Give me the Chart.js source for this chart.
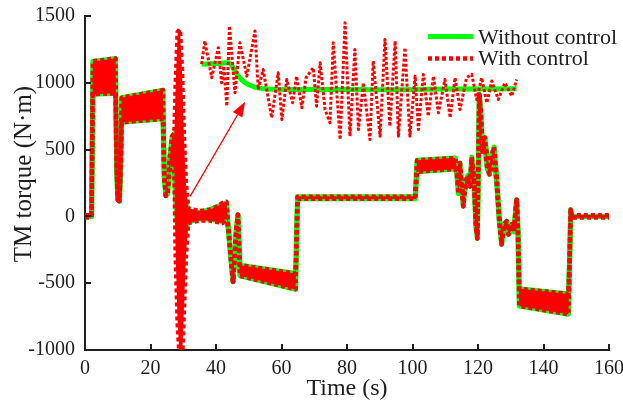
<!DOCTYPE html>
<html>
<head>
<meta charset="utf-8">
<script src="https://cdn.jsdelivr.net/npm/chart.js@4/dist/chart.umd.min.js"></script>
<style>
  html, body { margin: 0; padding: 0; background: #fff; }
  #wrap { width: 623px; height: 403px; }
</style>
</head>
<body>
<div id="wrap"><canvas id="grafico" width="623" height="403"></canvas></div>
<script>
// tiempo (s) y envolventes del par del TM
const mainTime = [0, 2.0, 2.4, 9.3, 9.7, 10.0, 10.5, 10.8, 11.2, 23.8, 24.2, 24.7, 25.2, 25.8, 26.6, 27.3,
  27.7, 28.3, 29.0, 29.6, 30.2, 30.8, 31.5, 35.0, 38.0, 40.0, 42.0, 43.2, 43.8, 44.5, 45.2, 45.7, 46.2, 46.7,
  47.0, 47.3, 64.3, 64.9, 100.8, 101.4, 113.0, 113.5, 114.0, 114.5, 115.0, 115.5, 116.0, 117.0, 117.6, 118.1,
  118.8, 119.4, 119.8, 120.2, 120.4, 120.8, 121.3, 122.1, 122.8, 123.5, 124.9, 125.7, 126.5, 127.2, 127.9,
  128.8, 129.3, 130.3, 131.0, 131.8, 132.2, 132.6, 147.6, 148.0, 148.3, 148.6, 160];

const withoutHi = [0, 0, 1160, 1182, 350, 125, 115, 300, 888, 945, 300, 155, 170, 420, 600, 620,
  500, 400, 300, 200, 150, 100, 40, 30, 50, 70, 90, 100, -100, -300, -490, -300, -100, 13,
  -200, -365, -428, 148, 148, 420, 437, 370, 230, 400, 250, 125, 250, 310, 275, 445,
  285, -60, -135, 545, 913, 810, 565, 590, 440, 385, 520, 300, -10, -185, -60,
  -35, -110, -60, -85, 125, -90, -542, -580, -300, 50, 0, 0];
const withoutLo = [0, 0, 915, 922, 350, 125, 115, 300, 705, 730, 300, 155, 170, 350, 420, 330,
  100, -100, -300, -300, -200, -100, -40, -20, -20, -30, -40, 0, -100, -300, -490, -300, -100, 13,
  -200, -445, -545, 132, 132, 335, 355, 330, 170, 350, 200, 75, 200, 265, 225, 405,
  240, -90, -165, 505, 913, 740, 485, 510, 360, 315, 455, 250, -40, -210, -90,
  -65, -135, -90, -115, 125, -110, -670, -732, -300, 50, 0, 0];

const withHi = [8, 8, 1160, 1182, 350, 125, 115, 300, 888, 945, 300, 155, 170, 420, 600, 620,
  1000, 1380, 1400, 1100, 600, 250, 60, 40, 50, 70, 100, 110, -100, -300, -490, -300, -100, 13,
  -200, -365, -428, 148, 148, 420, 437, 370, 230, 400, 250, 125, 250, 310, 275, 445,
  285, -60, -135, 545, 913, 810, 565, 590, 440, 385, 520, 300, -10, -185, -60,
  -35, -110, -60, -85, 125, -90, -542, -580, -300, 50, 8, 8];
const withLo = [-8, -8, 915, 922, 350, 125, 115, 300, 705, 730, 300, 155, 170, 350, 420, 330,
  -300, -800, -1100, -1100, -700, -300, -50, -30, -30, -40, -50, 0, -100, -300, -490, -300, -100, 13,
  -200, -445, -545, 132, 132, 335, 355, 330, 170, 350, 200, 75, 200, 265, 225, 405,
  240, -90, -165, 505, 913, 740, 485, 510, 360, 315, 455, 250, -40, -210, -90,
  -65, -135, -90, -115, 125, -110, -670, -732, -300, 50, -8, -8];

// recuadro ampliado (zoom de la zona 35-132 s)
const insetTimeWithout = [35.6, 40.0, 43.8, 46.8, 48.9, 51.9, 57.0, 70.0, 90.0, 110.0, 131.8];
const insetWithout = [1138, 1145, 1150, 1050, 1000, 968, 952, 950, 948, 953, 955];

const insetTimeWith = [35.6, 36.6, 38.7, 40.7, 41.7, 42.4, 43.3, 44.1, 45.8, 47.3, 49.4, 51.9, 52.9, 54.4,
  57.0, 59.0, 60.1, 61.6, 63.4, 64.6, 66.2, 67.5, 69.7, 70.7, 71.8, 73.3, 74.8, 75.8, 77.9, 79.4, 80.9,
  82.4, 83.5, 85.0, 87.0, 88.0, 90.1, 91.6, 93.1, 94.7, 95.7, 97.7, 99.2, 100.8, 101.8, 103.3, 104.8,
  106.4, 107.9, 109.9, 111.5, 113.0, 114.5, 116.5, 118.1, 119.6, 121.1, 122.7, 124.2, 126.2, 128.2,
  130.3, 131.8];
const insetWith = [1140, 1313, 1038, 1263, 1000, 1125, 825, 1425, 925, 1300, 1050, 1388, 950, 1100,
  738, 1075, 725, 1025, 850, 1050, 813, 1038, 1113, 825, 1150, 800, 700, 1300, 575, 1450, 600,
  1250, 650, 1000, 575, 1163, 600, 1325, 675, 1313, 600, 1263, 600, 1050, 650, 1063, 750,
  1050, 775, 1025, 738, 1038, 800, 1038, 1063, 875, 1038, 850, 1013, 875, 1000,
  900, 1025];

// flecha: desde la zona de 30 s hacia el recuadro
const arrowFrom = [32.1, 150];
const arrowTo = [48.9, 858];

const xTicks = [0, 20, 40, 60, 80, 100, 120, 140, 160];
const yTicks = [-1000, -500, 0, 500, 1000, 1500];

const VERDE = '#00ff00';
const ROJO = '#ff0000';
const TINTA = '#1e1e1e';

function puntos(xs, ys) {
    return xs.map((x, i) => ({x: x, y: ys[i]}));
}

const ticksHaciaDentro = {
    id: 'ticksHaciaDentro',
    afterDraw(chart) {
        const ctx = chart.ctx;
        const a = chart.chartArea;
        const sx = chart.scales.x, sy = chart.scales.y;
        ctx.save();
        ctx.strokeStyle = TINTA;
        ctx.lineWidth = 2;
        ctx.beginPath();
        xTicks.forEach(v => {
            const px = Math.round(sx.getPixelForValue(v));
            ctx.moveTo(px, a.bottom);
            ctx.lineTo(px, a.bottom - 6);
        });
        yTicks.forEach(v => {
            const py = Math.round(sy.getPixelForValue(v));
            ctx.moveTo(a.left, py);
            ctx.lineTo(a.left + 6, py);
        });
        ctx.stroke();
        ctx.restore();
    }
};

const tituloY = {
    id: 'tituloY',
    afterDraw(chart) {
        const ctx = chart.ctx;
        ctx.save();
        ctx.translate(24, 174);
        ctx.rotate(-Math.PI / 2);
        ctx.fillStyle = TINTA;
        ctx.font = '25px "Liberation Serif"';
        ctx.textAlign = 'center';
        ctx.textBaseline = 'middle';
        ctx.fillText('TM torque (N·m)', 0, 0);
        ctx.restore();
    }
};

const flecha = {
    id: 'flecha',
    afterDatasetsDraw(chart) {
        const ctx = chart.ctx;
        const sx = chart.scales.x, sy = chart.scales.y;
        const x0 = sx.getPixelForValue(arrowFrom[0]), y0 = sy.getPixelForValue(arrowFrom[1]);
        const x1 = sx.getPixelForValue(arrowTo[0]), y1 = sy.getPixelForValue(arrowTo[1]);
        const ang = Math.atan2(y1 - y0, x1 - x0);
        const largo = 15, ancho = 5.5;
        const bx = x1 - largo * Math.cos(ang), by = y1 - largo * Math.sin(ang);
        ctx.save();
        ctx.strokeStyle = ROJO;
        ctx.fillStyle = ROJO;
        ctx.lineWidth = 1.3;
        ctx.beginPath();
        ctx.moveTo(x0, y0);
        ctx.lineTo(bx, by);
        ctx.stroke();
        ctx.beginPath();
        ctx.moveTo(x1, y1);
        ctx.lineTo(bx + ancho * Math.sin(ang), by - ancho * Math.cos(ang));
        ctx.lineTo(bx - ancho * Math.sin(ang), by + ancho * Math.cos(ang));
        ctx.closePath();
        ctx.fill();
        ctx.restore();
    }
};

const leyenda = {
    id: 'leyenda',
    afterDraw(chart) {
        const ctx = chart.ctx;
        ctx.save();
        ctx.lineWidth = 5;
        ctx.strokeStyle = VERDE;
        ctx.beginPath();
        ctx.moveTo(428, 36.5);
        ctx.lineTo(473, 36.5);
        ctx.stroke();
        ctx.lineWidth = 4.5;
        ctx.strokeStyle = ROJO;
        ctx.setLineDash([4, 3]);
        ctx.beginPath();
        ctx.moveTo(428, 58.5);
        ctx.lineTo(473, 58.5);
        ctx.stroke();
        ctx.setLineDash([]);
        ctx.fillStyle = TINTA;
        ctx.font = '22px "Liberation Serif"';
        ctx.textBaseline = 'alphabetic';
        ctx.fillText('Without control', 478, 43.5);
        ctx.fillText('With control', 478, 65);
        ctx.restore();
    }
};

function graficar() {
    Chart.defaults.font.family = '"Liberation Serif", serif';
    Chart.defaults.color = TINTA;

    const ctx = document.getElementById('grafico').getContext('2d');
    new Chart(ctx, {
        type: 'line',
        data: {
            datasets: [
                {label: 'Without control', data: puntos(mainTime, withoutHi), borderColor: VERDE,
                    borderWidth: 5, fill: false, order: 6},
                {label: 'Without control lo', data: puntos(mainTime, withoutLo), borderColor: VERDE,
                    backgroundColor: VERDE, borderWidth: 5, fill: '-1', order: 5},
                {label: 'With control', data: puntos(mainTime, withHi), borderColor: ROJO,
                    borderWidth: 4.5, borderDash: [4, 3], fill: false, order: 4},
                {label: 'With control lo', data: puntos(mainTime, withLo), borderColor: ROJO,
                    backgroundColor: ROJO, borderWidth: 4.5, borderDash: [4, 3], fill: '-1', order: 3},
                {label: 'zoom without', data: puntos(insetTimeWithout, insetWithout), borderColor: VERDE,
                    borderWidth: 5, fill: false, cubicInterpolationMode: 'monotone', order: 2},
                {label: 'zoom with', data: puntos(insetTimeWith, insetWith), borderColor: ROJO,
                    borderWidth: 3, borderDash: [3, 2], fill: false, order: 1}
            ]
        },
        options: {
            responsive: false,
            animation: false,
            events: [],
            layout: {padding: {top: 16, right: 14, left: 0, bottom: 0}},
            elements: {
                point: {radius: 0},
                line: {tension: 0, borderCapStyle: 'butt', borderJoinStyle: 'round'}
            },
            plugins: {
                legend: {display: false},
                tooltip: {enabled: false}
            },
            scales: {
                x: {
                    type: 'linear',
                    min: 0, max: 160,
                    afterFit: s => { s.height = 53; s.paddingLeft = 0; s.paddingRight = 0; },
                    afterBuildTicks: s => { s.ticks = xTicks.map(v => ({value: v})); },
                    ticks: {font: {size: 20}, padding: 7, maxRotation: 0, color: TINTA,
                        callback: v => String(v)},
                    grid: {drawOnChartArea: false, drawTicks: false},
                    border: {display: true, color: TINTA, width: 2},
                    title: {display: true, text: 'Time (s)', font: {size: 24}, padding: 0, color: TINTA}
                },
                y: {
                    min: -1000, max: 1500,
                    afterFit: s => { s.width = 85; s.paddingTop = 0; s.paddingBottom = 0; },
                    afterBuildTicks: s => { s.ticks = yTicks.map(v => ({value: v})); },
                    ticks: {font: {size: 20}, padding: 10, color: TINTA,
                        callback: v => String(v)},
                    grid: {drawOnChartArea: false, drawTicks: false},
                    border: {display: true, color: TINTA, width: 2}
                }
            }
        },
        plugins: [ticksHaciaDentro, tituloY, flecha, leyenda]
    });
}

window.addEventListener('load', graficar);
</script>
</body>
</html>
